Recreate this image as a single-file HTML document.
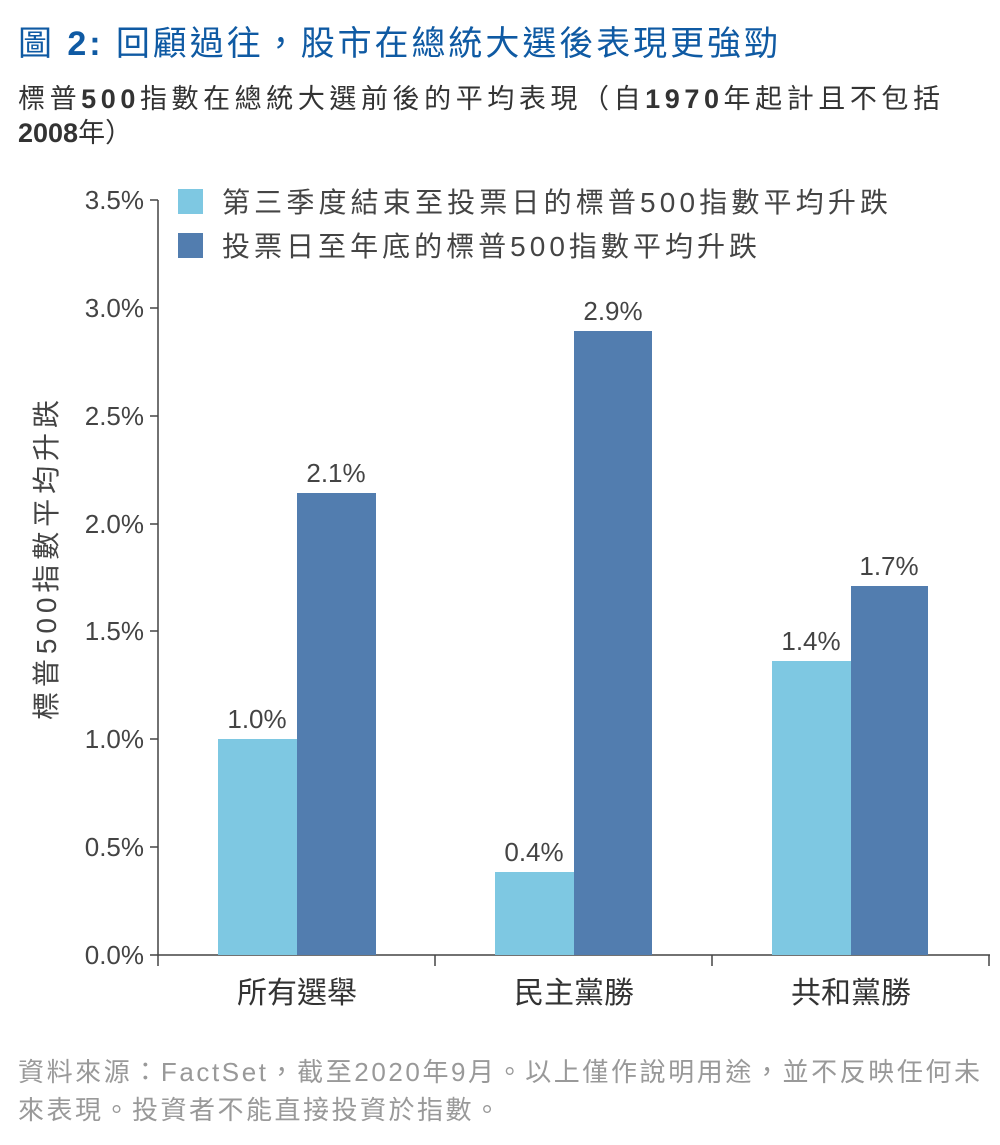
<!DOCTYPE html>
<html><head><meta charset="utf-8"><style>
body{margin:0;background:#fff;}
svg text{font-family:"Liberation Sans","Noto Sans CJK TC",sans-serif;}
</style></head><body>
<svg width="1000" height="1140" xmlns="http://www.w3.org/2000/svg">
<text x="18" y="55" font-size="34" fill="#0f5aa3" textLength="760" lengthAdjust="spacing">圖 <tspan font-weight="bold">2:</tspan> 回顧過往，股市在總統大選後表現更強勁</text>
<text x="18" y="108" font-size="27" fill="#333" textLength="922" lengthAdjust="spacing">標普<tspan font-weight="bold">500</tspan>指數在總統大選前後的平均表現（自<tspan font-weight="bold">1970</tspan>年起計且不包括</text>
<text x="18" y="142" font-size="27" fill="#333" font-weight="bold">2008<tspan font-weight="normal">年）</tspan></text>
<g font-size="26" fill="#444" text-anchor="end">
<text x="144" y="209">3.5%</text><text x="144" y="317">3.0%</text><text x="144" y="425">2.5%</text>
<text x="144" y="533">2.0%</text><text x="144" y="640">1.5%</text><text x="144" y="748">1.0%</text>
<text x="144" y="856">0.5%</text><text x="144" y="964">0.0%</text>
</g>
<g stroke="#444" stroke-width="1.5">
<line x1="158" y1="200" x2="158" y2="955"/>
<line x1="150" y1="955" x2="990" y2="955"/>
<line x1="150" y1="200" x2="158" y2="200"/><line x1="150" y1="308" x2="158" y2="308"/>
<line x1="150" y1="416" x2="158" y2="416"/><line x1="150" y1="524" x2="158" y2="524"/>
<line x1="150" y1="631" x2="158" y2="631"/><line x1="150" y1="739" x2="158" y2="739"/>
<line x1="150" y1="847" x2="158" y2="847"/>
<line x1="158" y1="955" x2="158" y2="966"/><line x1="435" y1="955" x2="435" y2="966"/>
<line x1="712" y1="955" x2="712" y2="966"/><line x1="989" y1="955" x2="989" y2="966"/>
</g>
<rect x="218" y="739" width="79" height="216" fill="#7ec8e2"/>
<rect x="297" y="493" width="79" height="462" fill="#527daf"/>
<rect x="495" y="872" width="79" height="83" fill="#7ec8e2"/>
<rect x="574" y="331" width="78" height="624" fill="#527daf"/>
<rect x="772" y="661" width="79" height="294" fill="#7ec8e2"/>
<rect x="851" y="586" width="77" height="369" fill="#527daf"/>
<g font-size="26" fill="#444" text-anchor="middle">
<text x="257" y="728">1.0%</text><text x="336" y="482">2.1%</text>
<text x="534" y="861">0.4%</text><text x="613" y="320">2.9%</text>
<text x="811" y="650">1.4%</text><text x="889" y="575">1.7%</text>
</g>
<g font-size="30" fill="#333" text-anchor="middle">
<text x="297" y="1003">所有選舉</text><text x="574" y="1003">民主黨勝</text><text x="851" y="1003">共和黨勝</text>
</g>
<text transform="translate(56,560) rotate(-90)" font-size="28" fill="#444" text-anchor="middle" textLength="320" lengthAdjust="spacing">標普500指數平均升跌</text>
<rect x="178" y="189" width="25" height="25" fill="#7ec8e2"/>
<rect x="178" y="233" width="25" height="25" fill="#527daf"/>
<text x="222" y="212" font-size="28" fill="#444" textLength="666" lengthAdjust="spacing">第三季度結束至投票日的標普500指數平均升跌</text>
<text x="222" y="256" font-size="28" fill="#444" textLength="535" lengthAdjust="spacing">投票日至年底的標普500指數平均升跌</text>
<text x="18" y="1081" font-size="26" fill="#999" textLength="962" lengthAdjust="spacing">資料來源：FactSet，截至2020年9月。以上僅作說明用途，並不反映任何未</text>
<text x="18" y="1119" font-size="26" fill="#999" textLength="482" lengthAdjust="spacing">來表現。投資者不能直接投資於指數。</text>
</svg>
</body></html>
